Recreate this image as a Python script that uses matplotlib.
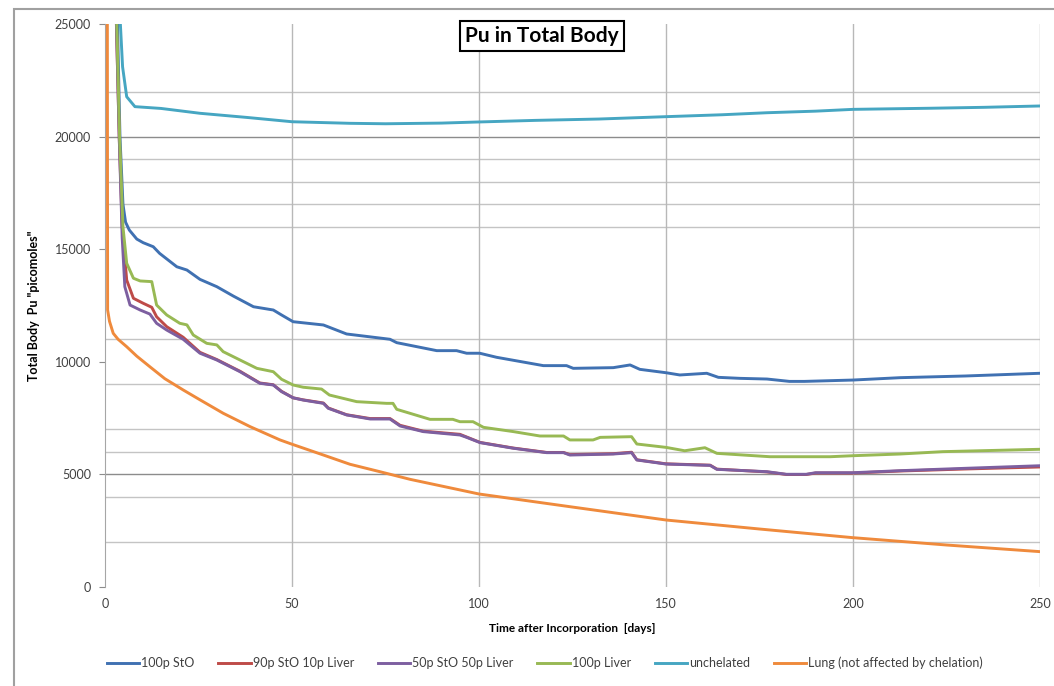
import matplotlib.pyplot as plt
from matplotlib.patches import Rectangle

plt.rcParams['font.family'] = ['Lato', 'DejaVu Sans']

# days after incorporation / total body Pu (picomoles)
t_sto = [3.2, 4.0, 4.8, 5.5, 6.5, 7.5, 8.5, 10.2, 12.9, 14.6, 19.2, 21.9, 25.4, 29.9, 34.3, 39.7, 45.0, 47.2, 50.3,
         58.4, 64.6, 76.2, 78.0, 88.7, 94.0, 96.7, 100.2, 104.7, 117.2, 123.4, 125.2, 135.9, 140.4, 143.0, 150.0,
         153.7, 160.9, 164.0, 169.8, 177.0, 183.0, 187.0, 200.0, 212.6, 230.0, 250.0]
v_sto = [26000, 20000, 17000, 16200, 15850, 15650, 15450, 15290, 15110, 14815, 14220, 14075, 13660, 13335, 12920,
         12445, 12300, 12080, 11780, 11635, 11235, 11000, 10850, 10495, 10495, 10380, 10380, 10200, 9830, 9830,
         9710, 9740, 9860, 9665, 9515, 9415, 9490, 9310, 9265, 9235, 9130, 9130, 9190, 9295, 9370, 9490]

t_90 = [2.9, 3.8, 4.6, 5.8, 7.6, 10.2, 12.5, 13.8, 16.5, 20.9, 25.4, 29.9, 36.1, 41.4, 45.0, 47.2, 50.3, 53.0,
        58.4, 59.7, 64.6, 70.9, 76.2, 78.9, 85.1, 94.9, 96.7, 100.3, 109.2, 118.1, 122.6, 124.3, 135.9, 140.8,
        142.2, 150.0, 161.8, 163.6, 177.0, 182.2, 187.5, 190.0, 200.0, 212.6, 230.0, 250.0]
v_90 = [26000, 20000, 16000, 13630, 12820, 12600, 12420, 12000, 11560, 11090, 10420, 10100, 9580, 9060, 8980,
        8690, 8400, 8310, 8170, 7950, 7650, 7480, 7480, 7180, 6920, 6780, 6660, 6420, 6170, 5975, 5975, 5880,
        5920, 5985, 5650, 5470, 5410, 5235, 5110, 4995, 4995, 5060, 5060, 5150, 5240, 5330]

t_50 = [2.9, 3.8, 4.6, 5.3, 6.7, 9.4, 12.0, 13.8, 16.5, 20.9, 25.4, 29.9, 36.1, 41.4, 45.0, 47.2, 50.3, 53.0,
        58.4, 59.7, 64.6, 70.9, 76.2, 78.9, 85.1, 94.9, 96.7, 100.3, 109.2, 118.1, 122.6, 124.3, 135.9, 140.8,
        142.2, 150.0, 161.8, 163.6, 177.0, 182.2, 187.5, 190.0, 200.0, 212.6, 230.0, 250.0]
v_50 = [26000, 20000, 15500, 13335, 12520, 12300, 12120, 11710, 11410, 11000, 10380, 10080, 9560, 9045, 8970,
        8675, 8400, 8300, 8155, 7935, 7640, 7460, 7460, 7150, 6900, 6750, 6645, 6410, 6160, 5965, 5965, 5860,
        5905, 5965, 5640, 5460, 5400, 5225, 5120, 5005, 5005, 5075, 5075, 5165, 5270, 5385]

t_liver = [3.0, 3.9, 4.8, 5.8, 7.6, 9.4, 12.5, 13.8, 16.5, 20.0, 21.9, 23.6, 27.2, 29.9, 31.6, 36.1, 40.6, 45.0,
           47.2, 50.3, 53.0, 57.9, 60.0, 67.3, 75.3, 77.0, 78.0, 86.9, 93.0, 94.9, 98.4, 101.2, 109.2, 116.3,
           122.6, 124.3, 130.5, 132.4, 140.8, 142.2, 150.0, 155.0, 160.4, 163.6, 177.8, 193.9, 200.0, 212.6,
           224.0, 250.0]
v_liver = [26000, 20000, 16000, 14375, 13710, 13590, 13560, 12520, 12080, 11710, 11640, 11190, 10820, 10750,
           10450, 10080, 9710, 9560, 9225, 8970, 8870, 8790, 8525, 8230, 8155, 8155, 7890, 7445, 7445, 7340, 7340,
           7090, 6900, 6705, 6705, 6530, 6530, 6645, 6675, 6350, 6200, 6050, 6185, 5935, 5785, 5785, 5830, 5905,
           6010, 6115]

t_unch = [3.8, 4.7, 5.8, 8.0, 15.0, 25.4, 38.0, 50.0, 65.5, 75.0, 90.0, 100.0, 115.0, 132.0, 150.0, 165.0,
          177.0, 190.0, 200.0, 221.0, 235.0, 250.0]
v_unch = [26000, 23100, 21770, 21330, 21250, 21035, 20850, 20660, 20590, 20570, 20600, 20650, 20720, 20780,
          20885, 20970, 21060, 21130, 21210, 21260, 21300, 21360]

t_lung = [0.6, 0.7, 1.2, 2.2, 3.5, 5.8, 8.5, 12.0, 16.0, 20.9, 25.0, 31.6, 38.8, 46.8, 50.0, 58.4, 65.5, 73.5,
          81.6, 100.0, 125.0, 150.0, 175.0, 200.0, 225.0, 250.0]
v_lung = [30000, 12300, 11800, 11265, 11000, 10670, 10250, 9780, 9250, 8750, 8350, 7715, 7120, 6530, 6340,
          5860, 5450, 5120, 4780, 4130, 3550, 2975, 2575, 2190, 1865, 1570]

labels = ['100p StO', '90p StO 10p Liver', '50p StO 50p Liver', '100p Liver', 'unchelated',
          'Lung (not affected by chelation)']
colors = ['#4071B2', '#BE4B48', '#7D5FA0', '#98B954', '#46A6C2', '#EF8A3C']
series = [(t_sto, v_sto), (t_90, v_90), (t_50, v_50), (t_liver, v_liver), (t_unch, v_unch), (t_lung, v_lung)]

x_ticks = [0, 50, 100, 150, 200, 250]
y_ticks = [0, 5000, 10000, 15000, 20000, 25000]
grid_dark = [5000, 20000]
grid_light = [2000, 4000, 6000, 7000, 9000, 11000, 16000, 17000, 18000, 19000, 22000]

fig = plt.figure(figsize=(10.54, 6.86), dpi=100)
ax = fig.add_axes([105/1054, 1 - 587/686, 935/1054, 563/686])

for y in grid_light:
    ax.axhline(y, color='#c4c4c4', lw=1.0, zorder=1)
for y in grid_dark:
    ax.axhline(y, color='#8c8c8c', lw=1.0, zorder=1)
for x in x_ticks[1:]:
    ax.axvline(x, color='#b8b8b8', lw=1.0, zorder=1)

handles = []
for (t, v), c, lab in zip(series, colors, labels):
    h, = ax.plot(t, v, color=c, lw=2.1, label=lab, zorder=3)
    handles.append(h)

ax.set_xlim(0, 250)
ax.set_ylim(0, 25000)
ax.set_xticks(x_ticks)
ax.set_yticks(y_ticks)
for s in ['top', 'right', 'bottom']:
    ax.spines[s].set_visible(False)
ax.spines['left'].set_color('#a6a6a6')
ax.tick_params(axis='x', length=0, pad=8, labelsize=9, labelcolor='#404040')
ax.tick_params(axis='y', length=4, color='#8c8c8c', pad=6, labelsize=9, labelcolor='#404040')

ax.set_xlabel('Time after Incorporation  [days]', fontsize=8.5, fontweight='bold', labelpad=9)
ax.set_ylabel('Total Body  Pu "picomoles"', fontsize=9, fontweight='bold', labelpad=11)

fig.text(542/1054, 1 - 36/686, 'Pu in Total Body', fontsize=15, fontweight='bold', ha='center', va='center',
         bbox=dict(boxstyle='square,pad=0.25', facecolor='white', edgecolor='black', linewidth=1.5))

fig.legend(handles, labels, loc='center', bbox_to_anchor=(545/1054, 23/686), ncol=6, frameon=False,
           fontsize=9, handlelength=2.6, handletextpad=0.15, columnspacing=1.9, labelcolor='#404040')

fig.patches.append(Rectangle((14/1054, -0.1), 1.2, 1 - 9/686 + 0.1, transform=fig.transFigure,
                             fill=False, edgecolor='#a0a0a0', lw=1.5))

fig.savefig('out.png', dpi=100)
